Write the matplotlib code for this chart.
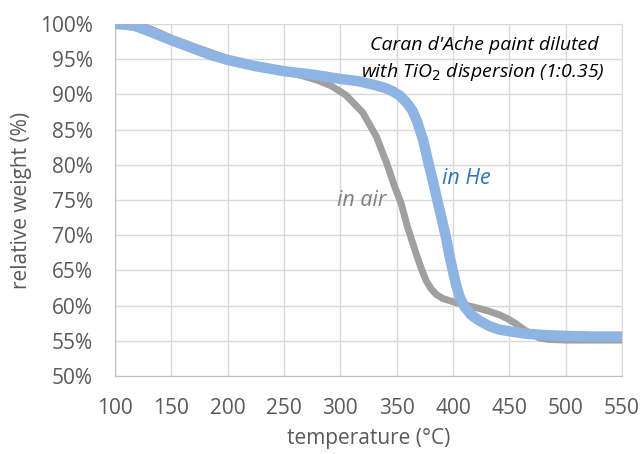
import matplotlib
matplotlib.use("Agg")
import matplotlib.pyplot as plt

plt.rcParams['font.family'] = ['Open Sans', 'DejaVu Sans']

# in He (blue)
he_temp = [100, 110, 118, 130, 150, 170, 185, 200, 225, 250, 276, 300, 315, 329, 340, 347, 353, 359, 364, 368,
           373.5, 379.5, 382, 386, 390, 394, 397, 400, 403, 406, 410, 416, 423, 432, 441, 452, 465, 483, 500, 525, 550]
he_wt = [100.0, 99.9, 99.7, 99.0, 97.7, 96.5, 95.6, 94.9, 94.0, 93.3, 92.8, 92.2, 91.9, 91.4, 90.9, 90.4, 89.8, 88.8, 87.7, 86.2,
         83.5, 79.4, 77.8, 75.0, 72.3, 69.5, 67.0, 64.8, 62.8, 61.2, 59.9, 58.7, 57.9, 57.1, 56.6, 56.3, 56.0, 55.8, 55.7, 55.6, 55.6]

# in air (gray)
air_temp = [100, 112, 130, 150, 170, 200, 225, 250, 265, 280, 292, 305, 320, 332, 341, 348, 354, 359, 363, 368, 372, 376,
            380, 385, 391, 403, 413, 423, 432, 441, 449, 456, 463, 470, 477, 485, 500, 525, 550]
air_wt = [100.0, 100.2, 99.4, 98.0, 96.8, 95.1, 94.1, 93.3, 92.7, 92.0, 91.2, 89.9, 87.4, 84.0, 80.3, 77.0, 74.5, 71.5, 69.5, 67.0, 65.2, 63.6,
          62.5, 61.6, 61.0, 60.4, 60.0, 59.6, 59.2, 58.7, 58.1, 57.4, 56.6, 55.9, 55.4, 55.2, 55.1, 55.1, 55.1]

x_ticks = [100, 150, 200, 250, 300, 350, 400, 450, 500, 550]
y_ticks = [50, 55, 60, 65, 70, 75, 80, 85, 90, 95, 100]

fig = plt.figure(figsize=(6.41, 4.54), dpi=100)
ax = fig.add_axes([0.1794, 0.1718, 0.791, 0.7753])

ax.plot(air_temp, air_wt, color='#A0A0A0', lw=5, solid_capstyle='round', solid_joinstyle='round', zorder=3)
ax.plot(he_temp, he_wt, color='#8DB4E2', lw=7.5, solid_capstyle='round', solid_joinstyle='round', zorder=4)

ax.set_xlim(100, 550)
ax.set_ylim(50, 100)
ax.set_xticks(x_ticks)
ax.set_yticks(y_ticks)
ax.set_yticklabels([f"{v}%" for v in y_ticks])
ax.tick_params(length=0, labelsize=15, colors='#595959')
ax.tick_params(axis='y', pad=16)
ax.tick_params(axis='x', pad=16)
ax.grid(True, color='#D9D9D9', lw=1)
ax.set_axisbelow(True)
for s in ax.spines.values():
    s.set_color('#D9D9D9')
ax.spines['left'].set_color('#BFBFBF')
ax.spines['bottom'].set_color('#BFBFBF')

ax.set_xlabel('temperature (°C)', fontsize=15, color='#595959', labelpad=6)
ax.set_ylabel('relative weight (%)', fontsize=15, color='#595959', labelpad=6)

ax.text(427.5, 97.0, "Caran d'Ache paint diluted", style='italic', fontsize=14, ha='center', va='center', color='black', zorder=5)
ax.text(426.6, 93.2, "with TiO$_2$ dispersion (1:0.35)", style='italic', fontsize=14, ha='center', va='center', color='black', zorder=5)
ax.text(390.2, 78.1, "in He", style='italic', fontsize=15.5, ha='left', va='center', color='#2E75B6', zorder=5)
ax.text(340.5, 75.0, "in air", style='italic', fontsize=15.5, ha='right', va='center', color='#7F7F7F', zorder=5)

fig.savefig('out.png', dpi=100)
